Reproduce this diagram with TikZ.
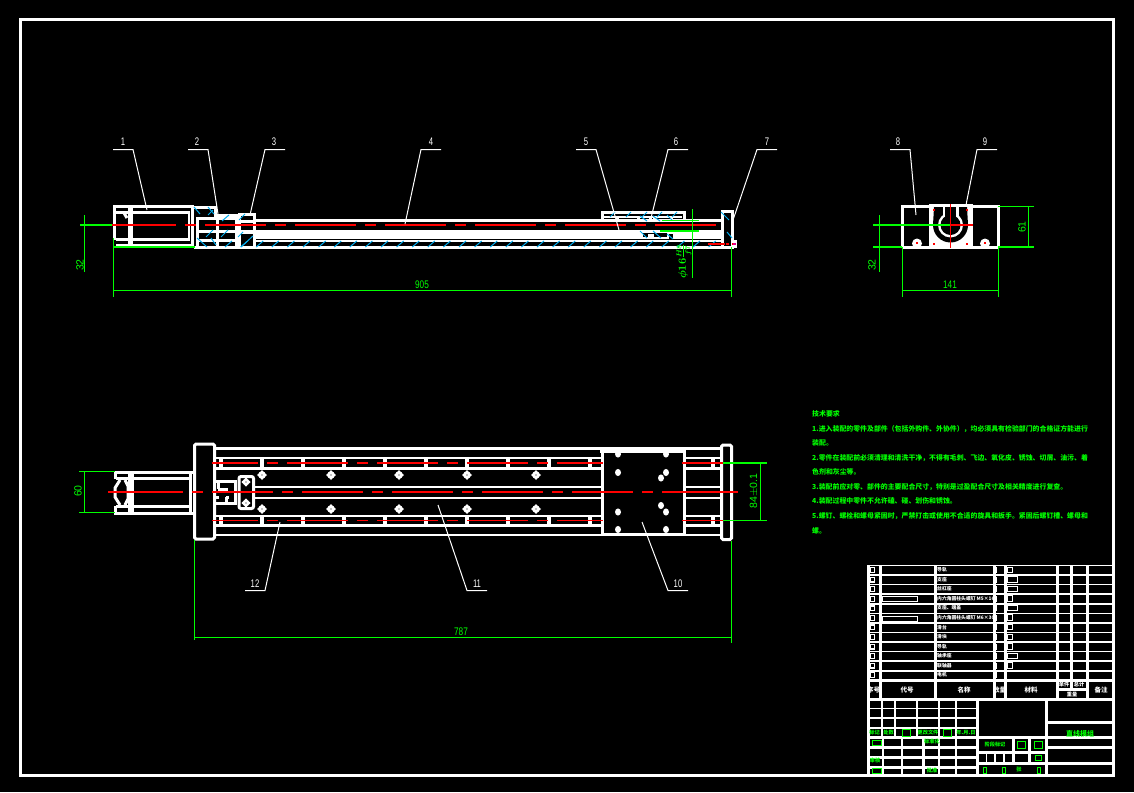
\documentclass[tikz,border=0pt]{standalone}
\usepackage{fontspec}
\setsansfont{Liberation Sans}
\newfontfamily\cjk{Noto Sans CJK SC}
\usepackage{tikz}
\usetikzlibrary{calc,positioning}

\begin{document}
\begin{tikzpicture}[x=1pt,y=-1pt]

    \tikzstyle{part}=[white,line width=3pt]
    \tikzstyle{thinpart}=[white,line width=1.6pt]
    \tikzstyle{leader}=[white,line width=1pt]
    \tikzstyle{dimline}=[green,line width=1.1pt]
    \tikzstyle{redline}=[red,line width=1.3pt]
    \tikzstyle{chain}=[redline,dash pattern=on 61pt off 9pt on 11pt off 9pt]
    \tikzstyle{hatch}=[cyan,line width=1pt]
    \tikzstyle{number}=[white,inner sep=0pt,xscale=0.7,font=\fontsize{11}{11}\sffamily]
    \tikzstyle{dimtext}=[green,inner sep=0pt,xscale=0.75,font=\fontsize{11}{11}\sffamily]
    \tikzstyle{dimrot}=[green,inner sep=0pt,rotate=90,font=\fontsize{10.5}{11}\sffamily]
    \tikzstyle{note}=[green,inner sep=0pt,anchor=west,font=\fontsize{6.9}{8}\cjk\bfseries]
    \tikzstyle{rowtext}=[white,inner sep=0pt,anchor=west,font=\fontsize{4.8}{5}\cjk\bfseries]
    \tikzstyle{headtext}=[white,inner sep=0pt,font=\fontsize{6.5}{7}\cjk\bfseries]
    \tikzstyle{titletext}=[green,inner sep=0pt,font=\fontsize{5.2}{6}\cjk\bfseries]
    \tikzstyle{greenbox}=[green,line width=1pt]

\fill[black] (0,0) rectangle (1134,792);
\useasboundingbox (0,0) rectangle (1134,792);
\draw[white,line width=3pt] (20.5,19.5) rectangle (1113.5,775);

\draw[part] (114.5,240) -- (114.5,206) -- (192,206) -- (192,245) -- (116,245);
\draw[part] (116,212.5) -- (190,212.5);
\draw[part] (116,239.5) -- (190,239.5);
\draw[white,line width=5.5pt] (130.5,206) -- (130.5,245);
\draw[thinpart] (189,212) -- (189,240);
\draw[part] (124,213) -- (127,218);

\draw[part] (192,207) -- (215,207) -- (215,218);
\draw[part] (196,218) -- (236,218);
\draw[part] (197,218) -- (197,247);
\draw[part] (197,240) -- (236,240);
\draw[part] (196,231) -- (236,231);
\draw[part] (217,215.5) -- (236,215.5) -- (236,247);
\draw[part] (217,215) -- (217,247);
\draw[part] (239.5,247) -- (239.5,214) -- (254,214) -- (254,247);
\draw[part] (239,221) -- (254,221);
\fill[white] (239,230) rectangle (254,234);

\draw[part] (254,220.5) -- (721,220.5);
\fill[white] (254,230) rectangle (721,239);
\draw[thinpart] (254,241) -- (721,241);
\draw[part] (194,247) -- (734,247);

\draw[part] (602,220) -- (602,212) -- (684,212) -- (684,220);
\draw[thinpart] (604,217) -- (682,217);
\foreach \hx in {616,637,649,653,670}
    \fill[white] (\hx,217) rectangle ++(3,3);
\fill[black] (643,233) rectangle (667,237);
\fill[black] (669,234) rectangle (673,238.5);
\fill[white] (648,234) rectangle (654,237);

\draw[part] (722.5,247) -- (722.5,211) -- (732.5,211) -- (732.5,247);
\fill[white] (731,240) rectangle (737,248);
\fill[black] (724,234) rectangle (729,239);

\foreach \hx in {225,240.6,...,710}
    \draw[hatch] (\hx,247) -- ++(7,-6);
\foreach \hx in {610,626,642,657,672}
    \draw[hatch] (\hx,217) -- ++(5,-5);
\draw[hatch] (194,207) -- (200,214);
\draw[hatch] (208,207) -- (214,214);
\draw[hatch] (208,215) -- (213,210);
\draw[hatch] (222,221) -- (229,215);
\draw[hatch] (239,220) -- (245,214);
\draw[hatch] (206,237) -- (213,230);
\draw[hatch] (221,237) -- (228,230);
\draw[hatch] (238,237) -- (243,232);
\draw[hatch] (197,238) -- (207,247);
\draw[hatch] (211,238) -- (216,245);
\draw[hatch] (241,247) -- (253,236);
\draw[hatch] (721,212) -- (729,220);
\draw[hatch] (727,232) -- (732,238);
\draw[hatch] (640,231) -- (647,238);
\draw[hatch] (653,231) -- (661,238);
\draw[hatch] (667,234) -- (673,239);
\draw[hatch] (640,216) -- (647,221);
\draw[hatch] (653,216) -- (660,221);
\draw[hatch] (667,215) -- (672,220);

\draw[redline] (108,225) -- (176,225);
\draw[redline] (185,225) -- (196,225);
\draw[chain] (205,225) -- (723,225);
\draw[redline,dash pattern=on 17pt off 1pt on 3pt off 3pt] (708,244) -- (733,244);
\draw[magenta,line width=1.5pt] (733,244) -- (736,244);

\draw[dimline] (80,225) -- (112,225);
\draw[dimline] (113,247) -- (195,247);
\draw[dimline] (84.5,215) -- (84.5,272);
\node (dim_32a) [dimrot] at (80,265) {32};
\draw[dimline] (113.5,238) -- (113.5,297);
\draw[dimline] (731.5,247) -- (731.5,297);
\draw[dimline] (113,290.5) -- (732,290.5);
\node (dim_905) [dimtext] at (422,285) {905};
\draw[dimline] (662,220.5) -- (699,220.5);
\draw[dimline] (660,231) -- (699,231);
\draw[dimline] (692.5,209) -- (692.5,278);
\node (dim_16) [dimrot,anchor=west,font=\fontsize{10.5}{11}\selectfont\boldmath] at (684,279) {$\phi16\frac{H8}{f7}$};

\fill[white] (929,204) rectangle (973,248.5);
\fill[black] (950.5,225) circle (17.5);
\fill[black] (934,207) -- (944,207) -- (944,225) -- (933,225) -- cycle;
\fill[black] (967,207) -- (957,207) -- (957,225) -- (968,225) -- cycle;
\fill[white] (950.5,225) circle (12.5);
\fill[white] (942.5,206) rectangle (958.5,225);
\fill[black] (950.5,225) circle (10);
\fill[black] (945,207) rectangle (956,225);
\fill[white] (932,238) rectangle (938,248);
\fill[white] (963,238) rectangle (969,248);
\draw[part] (929,206.5) -- (902.5,206.5) -- (902.5,247);
\draw[part] (973,206.5) -- (998,206.5) -- (998,247);
\draw[part] (902,247) -- (999,247);
\fill[white] (917,243.5) circle (5);
\fill[white] (985,243.5) circle (5);
\fill[red] (916,241.5) rectangle ++(2,2);
\fill[red] (984,241.5) rectangle ++(2,2);
\foreach \dx/\dy in {933/209,966/209,933/243,966/243}
    \fill[red] (\dx,\dy) rectangle ++(1.5,1.5);
\draw[redline] (950.5,204) -- (950.5,248);
\draw[redline] (950,225) -- (973,225);

\draw[dimline] (873,225) -- (950,225);
\draw[dimline] (873,247) -- (902,247);
\draw[dimline] (879.5,215) -- (879.5,272);
\node (dim_32b) [dimrot] at (872,265) {32};
\draw[dimline] (998,206.5) -- (1034,206.5);
\draw[dimline] (998,247) -- (1034,247);
\draw[dimline] (1028.5,206) -- (1028.5,247);
\node (dim_61) [dimrot] at (1022,227) {61};
\draw[dimline] (902.5,247) -- (902.5,297);
\draw[dimline] (998.5,247) -- (998.5,297);
\draw[dimline] (902,290.5) -- (999,290.5);
\node (dim_141) [dimtext] at (950,285) {141};

\foreach \ry/\rw in {448.5/3,458/2.5,468/3,487/2.5,498/2.5,516/2.5,525.5/3.5,535/2.5}
    \draw[white,line width=\rw pt] (215,\ry) -- (721,\ry);
\fill[black] (216,482) rectangle (253,502.5);
\foreach \tx in {221,262,303,344,385,426,467,508,549,590,713} {
    \fill[white] (\tx-2,458) rectangle ++(4,10);
    \fill[white] (\tx-2,516) rectangle ++(4,10);
}
\foreach \hx in {262,331,399,467,536} {
    \foreach \hy in {475,509} {
        \fill[white] (\hx,\hy) circle (3.8);
        \fill[white] (\hx,\hy) ellipse (5 and 2);
        \fill[white] (\hx,\hy) ellipse (2 and 5);
        \fill[black] (\hx,\hy) circle (0.7);
    }
}

\fill[black] (602,452) rectangle (683,534);
\draw[part] (602,449) -- (602,534) -- (684,534) -- (684,449);
\draw[part] (600,451) -- (686,451);
\foreach \hx in {618,666}
    \foreach \hy in {454,472.5,512,529.5}
        \fill[white] (\hx,\hy) ellipse (3 and 3.6);
\fill[white] (661,478) ellipse (3 and 3.6);
\fill[white] (661,505.5) ellipse (3 and 3.6);

\draw[part,rounded corners=1.5pt] (194.5,444) rectangle (214.5,539);
\draw[part,rounded corners=1.5pt] (721.5,445) rectangle (731.5,539.5);

\draw[part] (194,472) -- (114,472);
\draw[part] (194,513) -- (114,513);
\draw[part] (116,478.5) -- (190,478.5);
\draw[part] (116,506.5) -- (190,506.5);
\draw[white,line width=5.5pt] (131,472) -- (131,513);
\draw[part] (190,472) -- (190,513);
\fill[black] (117,480.5) rectangle (128,504.5);
\draw[part] (115,472) -- (115,479);
\draw[part] (115,506) -- (115,513);
\draw[part] (120,480) -- (115,488) -- (115,497) -- (120,505);
\draw[part] (125,480) -- (128,486) -- (128,499) -- (125,505);

\draw[part] (215,481.5) -- (235.5,481.5) -- (235.5,503) -- (215,503);
\draw[part] (218,489) -- (228,489);
\draw[part] (218,482) -- (218,489);
\draw[part] (226,497) -- (226,503);
\draw[part] (216,497) -- (219,497);
\draw[part] (226,497) -- (229,497);
\fill[black] (239.5,477) rectangle (253,508);
\draw[part,rounded corners=2pt] (239,476.5) rectangle (253.5,508.5);
\foreach \hy in {482,503} {
    \fill[white] (246,\hy) circle (3.4);
    \fill[white] (246,\hy) ellipse (4.5 and 2);
    \fill[white] (246,\hy) ellipse (2 and 4.5);
    \fill[black] (246,\hy) circle (0.7);
}

\draw[redline] (108,492) -- (183,492);
\draw[redline] (192,492) -- (203,492);
\draw[chain] (212,492) -- (723,492);
\draw[redline] (723,492) -- (738,492);
\draw[chain,dash phase=15pt] (212,463) -- (603,463);
\draw[chain,dash phase=15pt] (212,520.5) -- (603,520.5);
\draw[redline] (682,463) -- (723,463);
\draw[redline] (682,520.5) -- (723,520.5);

\draw[dimline] (79,471.5) -- (115,471.5);
\draw[dimline] (79,512.5) -- (115,512.5);
\draw[dimline] (84.5,471) -- (84.5,513);
\node (dim_60) [dimrot] at (78,491) {60};
\draw[dimline] (723,463) -- (767,463);
\draw[dimline] (723,520.5) -- (767,520.5);
\draw[dimline] (760.5,463) -- (760.5,521);
\node (dim_84) [dimrot] at (754,491) {84$\pm$0.1};
\draw[dimline] (194.5,540) -- (194.5,640);
\draw[dimline] (731.5,541) -- (731.5,643);
\draw[dimline] (194,637.5) -- (732,637.5);
\node (dim_787) [dimtext] at (461,632) {787};

\foreach \n/\sa/\sb/\ex/\ey/\tx in {1/133/113/147/210/123,2/208/188/218/214/197,3/265/285/250/215/274,4/421/441/405/224/431,5/596/576/619/230/586,6/668/688/651/218/676,7/757/777/733/220/767,8/910/890/916/215/898,9/977/997/966/205/985} {
    \coordinate (S_\n) at (\sa,149.5);
    \coordinate (T_\n) at (\sb,149.5);
    \coordinate (E_\n) at (\ex,\ey);
    \node (L_\n) [number] at (\tx,142) {\n};
    \draw[leader] (T_\n) -- (S_\n) -- (E_\n);
}
\foreach \n/\sa/\sb/\ex/\ey/\tx in {10/668/688/642/522/678,11/467/487/438/505/477,12/265/245/280/522/255} {
    \coordinate (S_\n) at (\sa,590.5);
    \coordinate (T_\n) at (\sb,590.5);
    \coordinate (E_\n) at (\ex,\ey);
    \node (L_\n) [number] at (\tx,584) {\n};
    \draw[leader] (T_\n) -- (S_\n) -- (E_\n);
}

\node (req_0) [note] at (812,414) {技术要求};
\node (req_1) [note] at (812,429) {1.进入装配的零件及部件（包括外购件、外协件），均必须具有检验部门的合格证方能进行};
\node (req_2) [note] at (812,443) {装配。};
\node (req_3) [note] at (812,458) {2.零件在装配前必须清理和清洗干净，不得有毛刺、飞边、氧化皮、锈蚀、切屑、油污、着};
\node (req_4) [note] at (812,472) {色剂和灰尘等。};
\node (req_5) [note] at (812,487) {3.装配前应对零、部件的主要配合尺寸，特别是过盈配合尺寸及相关精度进行复查。};
\node (req_6) [note] at (812,501) {4.装配过程中零件不允许磕、碰、划伤和锈蚀。};
\node (req_7) [note] at (812,516) {5.螺钉、螺栓和螺母紧固时，严禁打击或使用不合适的旋具和扳手。紧固后螺钉槽、螺母和};
\node (req_8) [note] at (812,531) {螺。};

\foreach \ry in {565.5,575.1,584.6,594.2,603.8,613.4,622.9,632.5,642.1,651.6,661.2,670.8}
    \draw[thinpart] (868,\ry) -- (1114,\ry);
\draw[part] (868,680.5) -- (1114,680.5);
\foreach \cx in {868,880,935,994,1005.5,1057,1071,1087}
    \draw[part] (\cx,565) -- (\cx,680);
\foreach \cx in {868,880,935,994,1005.5,1057,1087}
    \draw[part] (\cx,680) -- (\cx,699);
\draw[part] (1057,689.5) -- (1087,689.5);
\draw[part] (1071,680) -- (1071,689);
\draw[part] (868,699) -- (1114,699);

\foreach \ry in {1,...,12} {
    \fill[white] ($(870,557.5)+(0,\ry*9.56)$) rectangle ++(5,6);
    \fill[black] ($(871.2,558.7)+(0,\ry*9.56)$) rectangle ++(2.6,3.6);
    \fill[white] ($(995,557.5)+(0,\ry*9.56)$) rectangle ++(2,6);
}
\foreach \ry/\rw in {1/5,2/10,3/10,4/5,5/10,6/5,7/5,8/5,9/5,10/10,11/5}
    \draw[white,line width=0.9pt] ($(1007.5,557.5)+(0,\ry*9.56)$) rectangle ++(\rw,5.5);
\draw[white,line width=0.9pt] (882,596.5) rectangle (917,601.5);
\draw[white,line width=0.9pt] (882,616) rectangle (917,621);

\foreach \i/\rowname in {1/导轨,2/支座,3/丝杠座,4/内六角圆柱头螺钉 M5×16,5/支座、端盖,6/内六角圆柱头螺钉 M6×30,7/滑台,8/滑块,9/导轨,10/轴承座,11/联轴器,12/电机}
    \node (row_\i) [rowtext] at ($(937,561)+(0,\i*9.56-0.8)$) {\rowname};

\node (head_1) [headtext] at (873.5,690) {序号};
\node (head_2) [headtext] at (907,690) {代号};
\node (head_3) [headtext] at (964,690) {名称};
\node (head_4) [headtext] at (999.5,690) {数量};
\node (head_5) [headtext] at (1031,690) {材料};
\node (head_6) [headtext] at (1101,690) {备注};
\node (head_7) [titletext,white] at (1064,685) {单件};
\node (head_8) [titletext,white] at (1079,685) {总计};
\node (head_9) [titletext,white] at (1072,694) {重量};

\foreach \ry in {708.5,718,728}
    \draw[thinpart] (868,\ry) -- (977,\ry);
\foreach \cx in {882,895,917,939,956}
    \draw[thinpart] (\cx,699) -- (\cx,737);
\draw[part] (868,737.5) -- (1114,737.5);
\foreach \ry in {747,757,767}
    \draw[part] (868,\ry) -- (977,\ry);
\foreach \cx in {883,902,939,956}
    \draw[thinpart] (\cx,737) -- (\cx,775);
\draw[part] (923,737) -- (923,775);
\draw[part] (868,565) -- (868,775);
\draw[part] (977,699) -- (977,775);
\draw[part] (1046,699) -- (1046,775);
\draw[part] (977,752) -- (1046,752);
\draw[part] (977,763.5) -- (1114,763.5);
\draw[part] (1013,737) -- (1013,763);
\draw[part] (1029,737) -- (1029,763);
\foreach \cx in {986.5,995,1004}
    \draw[thinpart] (\cx,752) -- (\cx,763);
\draw[part] (1046,722) -- (1114,722);
\draw[part] (1046,747.5) -- (1114,747.5);

\node (title_main) [titletext,font=\fontsize{7}{8}\cjk\bfseries] at (1080,734) {直线模组};
\node (mark_1) [titletext] at (874.5,732.5) {标记};
\node (mark_2) [titletext] at (888.5,732.5) {处数};
\node (mark_3) [titletext] at (928,732.5) {更改文件};
\node (mark_4) [titletext] at (966,732.5) {年.月.日};
\draw[greenbox] (902,729) rectangle (910,736);
\draw[greenbox] (943.5,729) rectangle (951.5,736);
\node (sign_1) [titletext] at (932,742) {标准化};
\node (sign_2) [titletext] at (932,771) {批准};
\node (sign_3) [titletext] at (875,760.5) {审核};
\node (stage_1) [titletext] at (995,744) {阶段标记};
\draw[greenbox] (872,740) rectangle (881,745.5);
\draw[greenbox] (872,768) rectangle (881,773);
\draw[greenbox] (1017,741) rectangle (1025,748);
\draw[greenbox] (1034,741) rectangle (1042,748);
\draw[greenbox] (1035,755) rectangle (1041,760);
\draw[greenbox] (983,767) rectangle (986.5,773);
\draw[greenbox] (1002,767) rectangle (1005.5,773);
\draw[greenbox] (1037,767) rectangle (1040.5,773);
\node (sheet_1) [titletext] at (1019,770) {张};

\end{tikzpicture}
\end{document}
